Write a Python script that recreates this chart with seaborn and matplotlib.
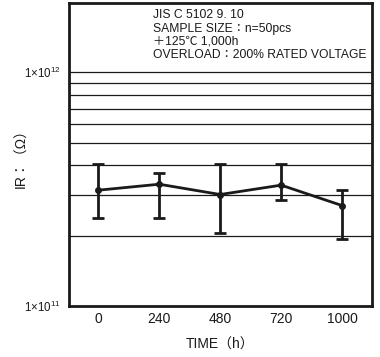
import matplotlib
matplotlib.use("Agg")
import matplotlib.pyplot as plt
import seaborn as sns
import numpy as np
import pandas as pd

# Data
times = ["0", "240", "480", "720", "1000"]
ir_mean = [3.13e11, 3.32e11, 3.00e11, 3.29e11, 2.69e11]
ir_high = [4.07e11, 3.71e11, 4.07e11, 4.07e11, 3.15e11]
ir_low = [2.39e11, 2.39e11, 2.05e11, 2.84e11, 1.93e11]
grid_values = [2e11, 3e11, 4e11, 5e11, 6e11, 7e11, 8e11, 9e11, 1e12]
note_lines = ["JIS C 5102 9. 10", "SAMPLE SIZE：n=50pcs", "＋125℃ 1,000h",
              "OVERLOAD：200% RATED VOLTAGE"]
note_y = [0.950, 0.905, 0.862, 0.818]

sns.set_theme(style="white")
plt.rcParams['font.family'] = ['Liberation Sans', 'Noto Sans CJK JP', 'DejaVu Sans']
plt.rcParams['mathtext.fontset'] = 'custom'
plt.rcParams['mathtext.rm'] = 'Liberation Sans'
plt.rcParams['mathtext.it'] = 'Liberation Sans'

fig = plt.figure(figsize=(3.8, 3.57), dpi=100)
ax = fig.add_axes([69/380, 1-306/357, (372-69)/380, (306-3)/357])

df = pd.DataFrame({"idx": np.arange(len(times)), "ir": ir_mean})
ax.set_yscale("log")
for g in grid_values:
    ax.axhline(g, color="#1a1a1a", lw=0.9, zorder=1)

yerr = [np.array(ir_mean) - np.array(ir_low), np.array(ir_high) - np.array(ir_mean)]
ax.errorbar(df["idx"], df["ir"], yerr=yerr, fmt="none", ecolor="#1a1a1a",
            elinewidth=2, capsize=4.5, capthick=2, zorder=3)
sns.lineplot(data=df, x="idx", y="ir", ax=ax, color="#1a1a1a", lw=2,
             marker="o", markersize=5, markeredgewidth=0, zorder=4)

ax.set_ylim(1e11, 1.98e12)
ax.set_xlim(-0.48, 4.49)
ax.set_xticks(np.arange(len(times)))
ax.set_xticklabels(times, fontsize=10)
ax.set_yticks([1e11, 1e12])
ax.set_yticklabels([r"1$\times$10$^{11}$", r"1$\times$10$^{12}$"], fontsize=8.3)
ax.yaxis.set_minor_locator(matplotlib.ticker.NullLocator())
ax.tick_params(axis="both", length=0, colors="#1a1a1a")
ax.tick_params(axis="x", pad=4)
ax.tick_params(axis="y", pad=6)

ax.set_xlabel("TIME（h）", fontsize=10, labelpad=9, color="#1a1a1a")
ax.set_ylabel("IR：（Ω）", fontsize=10, color="#1a1a1a")
ax.yaxis.set_label_coords(-0.135, 0.5)

for s in ax.spines.values():
    s.set_color("#1a1a1a")
    s.set_linewidth(2)

for line, yy in zip(note_lines, note_y):
    ax.text(0.277, yy, line, transform=ax.transAxes, fontsize=8.7,
            va="baseline", ha="left", color="#1a1a1a")

fig.savefig("out.png", dpi=100)
